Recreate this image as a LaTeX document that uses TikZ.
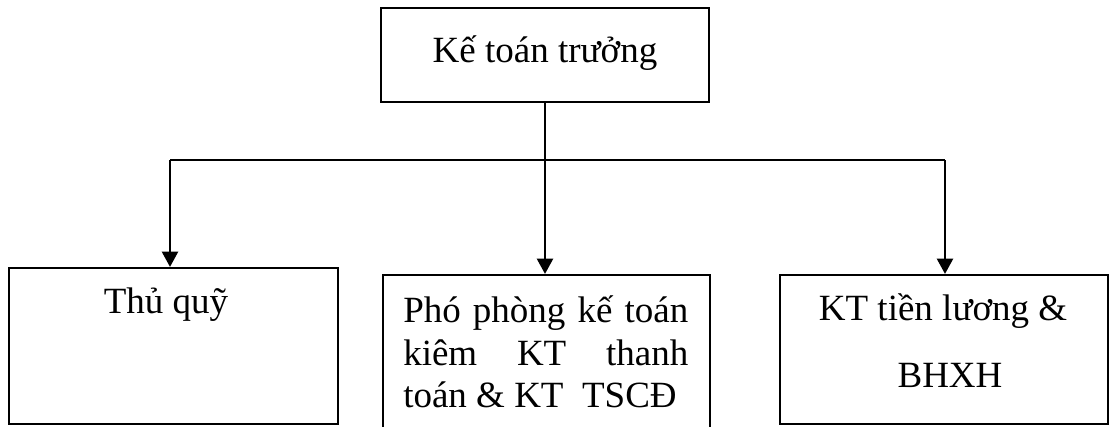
\documentclass[tikz,border=0pt]{standalone}
\usepackage{fontspec}
\setmainfont{Liberation Serif}
\usetikzlibrary{arrows.meta}
\newcommand{\pxu}{0.75pt}
\begin{document}
\begin{tikzpicture}[x=\pxu, y=-\pxu,
  box/.style={draw, line width=1.6pt, rectangle, inner sep=0pt},
  lbl/.style={inner sep=0pt, anchor=base, font=\fontsize{27.75}{32}\selectfont},
  link/.style={line width=1.9pt},
  arr/.style={line width=1.9pt, -{Triangle[width=12pt,length=11.5pt]}}]
\useasboundingbox (0,0) rectangle (1109,426);
\clip (0,0) rectangle (1109,426);
\fill[white] (0,0) rectangle (1109,426);

% boxes
\node[box, minimum width=328*\pxu, minimum height=94*\pxu] (top) at (545,55) {};
\node[box, minimum width=329*\pxu, minimum height=156*\pxu] (thuquy) at (173.5,346) {};
\node[box, minimum width=327*\pxu, minimum height=170*\pxu] (phopho) at (546.5,360) {};
\node[box, minimum width=328*\pxu, minimum height=149*\pxu] (tienluong) at (944,349.5) {};

% texts
\node[lbl] (ttop) at (545,62) {Kế toán trưởng};
\node[lbl] (tthu) at (166,313) {Thủ quỹ};
\node[lbl, anchor=base west] (tph1) at (403,322) {\makebox[213.75pt][s]{Phó phòng kế toán}};
\node[lbl, anchor=base west] (tph2) at (403,365) {\makebox[213.75pt][s]{kiêm KT thanh}};
\node[lbl, anchor=base west] (tph3) at (403,407) {toán \& KT\ \ TSCĐ};
\node[lbl] (ttl1) at (943,320) {KT tiền lương \&};
\node[lbl] (ttl2) at (950,387) {BHXH};

% connectors
\coordinate (bL) at (170,160);
\coordinate (bR) at (945,160);
\draw[link] (bL) -- (bR);
\draw[arr] (top.south) -- (top.south |- phopho.north);
\draw[arr] (bL) -- (bL |- thuquy.north);
\draw[arr] (bR) -- (bR |- tienluong.north);
\end{tikzpicture}
\end{document}
